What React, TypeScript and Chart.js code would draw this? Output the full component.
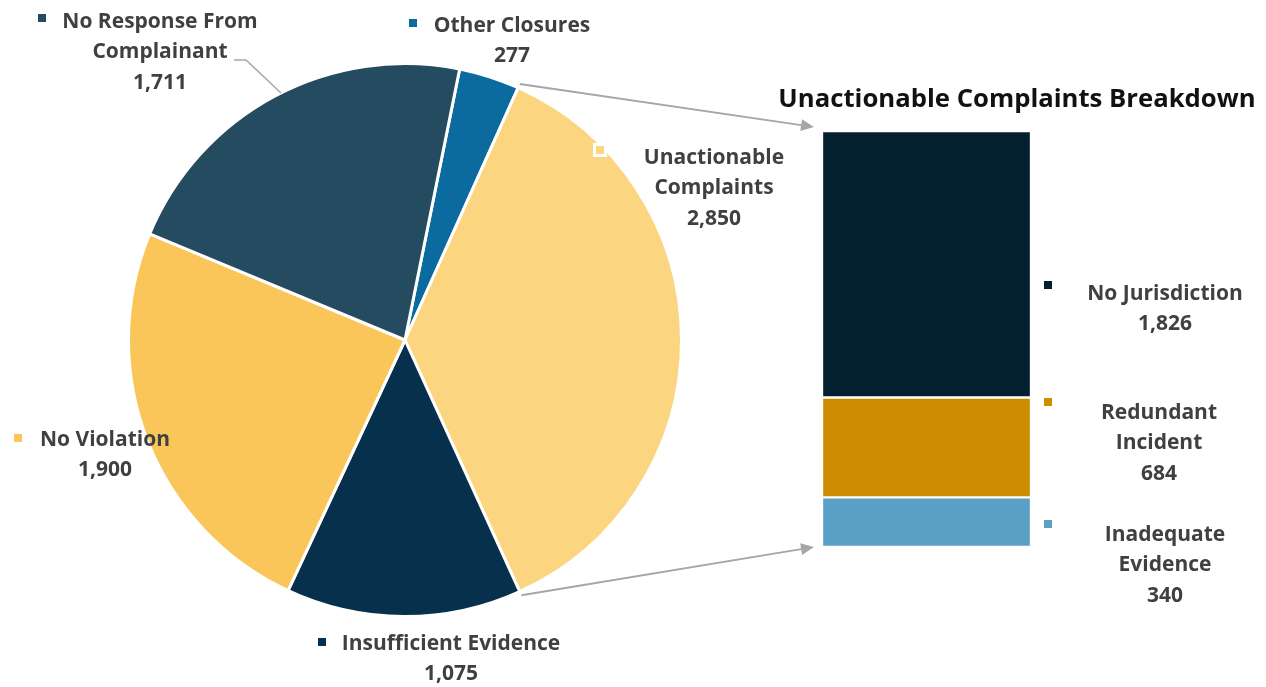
import React, { useEffect, useRef } from "react";
import { Chart, registerables } from "chart.js";

Chart.register(...registerables);

const pieLabels = ["Other Closures", "Unactionable Complaints", "Insufficient Evidence", "No Violation", "No Response From Complainant"];
const pieValues = [277, 2850, 1075, 1900, 1711];
const pieColors = ["#0b6a9e", "#fcd581", "#06304b", "#fac65a", "#254b60"];

const barLabels = ["No Jurisdiction", "Redundant Incident", "Inadequate Evidence"];
const barValues = [1826, 684, 340];
const barColors = ["#04202f", "#cc8e00", "#5aa0c4"];

const W = 1266;
const H = 687;
const FONT = "'Open Sans', Lato, sans-serif";
const TEXT = "#404040";

const fmt = (v: number) => v.toLocaleString("en-US");

type Lbl = { lines: string[]; cx: number; y: number; sq: [number, number]; color: string; hollow?: boolean };

export default function App() {
  const pieRef = useRef<HTMLCanvasElement | null>(null);
  const barRef = useRef<HTMLCanvasElement | null>(null);

  useEffect(() => {
    document.body.style.margin = "0";
    const pie = new Chart(pieRef.current!, {
      type: "pie",
      data: {
        labels: pieLabels,
        datasets: [{ data: pieValues, backgroundColor: pieColors, borderColor: "#ffffff", borderWidth: 3 }],
      },
      options: {
        responsive: false,
        animation: false,
        rotation: 11.4,
        layout: { padding: { left: 127, right: W - 683, top: 62, bottom: H - 618 } },
        plugins: { legend: { display: false }, tooltip: { enabled: false } },
      },
    });

    const labels: Lbl[] = [
      { lines: ["No Response From", "Complainant", fmt(pieValues[4])], cx: 160, y: 22, sq: [42, 18], color: pieColors[4] },
      { lines: ["Other Closures", fmt(pieValues[0])], cx: 512, y: 26, sq: [413, 23], color: pieColors[0] },
      { lines: ["Unactionable", "Complaints", fmt(pieValues[1])], cx: 714, y: 158, sq: [600, 150], color: pieColors[1], hollow: true },
      { lines: ["No Violation", fmt(pieValues[3])], cx: 105, y: 440, sq: [18, 438], color: pieColors[3] },
      { lines: ["Insufficient Evidence", fmt(pieValues[2])], cx: 451, y: 644, sq: [322, 642], color: pieColors[2] },
      { lines: ["No Jurisdiction", fmt(barValues[0])], cx: 1165, y: 294, sq: [1048, 285], color: barColors[0] },
      { lines: ["Redundant", "Incident", fmt(barValues[1])], cx: 1159, y: 413, sq: [1048, 402], color: barColors[1] },
      { lines: ["Inadequate", "Evidence", fmt(barValues[2])], cx: 1165, y: 535, sq: [1048, 524], color: barColors[2] },
    ];

    const arrow = (ctx: CanvasRenderingContext2D, x1: number, y1: number, x2: number, y2: number) => {
      const a = Math.atan2(y2 - y1, x2 - x1);
      const L = 13, Wd = 6;
      const bx = x2 - L * Math.cos(a), by = y2 - L * Math.sin(a);
      ctx.beginPath();
      ctx.moveTo(x1, y1);
      ctx.lineTo(bx, by);
      ctx.stroke();
      ctx.beginPath();
      ctx.moveTo(x2, y2);
      ctx.lineTo(bx + Wd * Math.sin(a), by - Wd * Math.cos(a));
      ctx.lineTo(bx - Wd * Math.sin(a), by + Wd * Math.cos(a));
      ctx.closePath();
      ctx.fill();
    };

    const overlay = {
      id: "overlay",
      afterDraw(chart: any) {
        const ctx: CanvasRenderingContext2D = chart.ctx;
        ctx.save();
        const arc: any = pie.getDatasetMeta(0).data[1];
        const r = arc.outerRadius + 4;
        const sx = arc.x + r * Math.cos(arc.startAngle), sy = arc.y + r * Math.sin(arc.startAngle);
        const ex = arc.x + r * Math.cos(arc.endAngle), ey = arc.y + r * Math.sin(arc.endAngle);
        const topEl: any = chart.getDatasetMeta(0).data[0];
        const botEl: any = chart.getDatasetMeta(2).data[0];
        const left = topEl.x - topEl.width / 2;
        const top = Math.min(topEl.y, topEl.base);
        const bottom = Math.max(botEl.y, botEl.base);
        ctx.strokeStyle = "#a6a6a6";
        ctx.fillStyle = "#a6a6a6";
        ctx.lineWidth = 2;
        arrow(ctx, sx, sy, left - 8, top - 4);
        arrow(ctx, ex, ey, left - 8, bottom);
        ctx.lineWidth = 1.5;
        ctx.beginPath();
        ctx.moveTo(234, 60);
        ctx.lineTo(246, 60);
        ctx.lineTo(281, 93);
        ctx.stroke();
        ctx.fillStyle = "#111111";
        ctx.font = `bold 25.7px ${FONT}`;
        ctx.textAlign = "center";
        ctx.textBaseline = "middle";
        ctx.fillText("Unactionable Complaints Breakdown", 1017, 100);
        ctx.font = `bold 21px ${FONT}`;
        for (const l of labels) {
          ctx.fillStyle = TEXT;
          l.lines.forEach((t, i) => ctx.fillText(t, l.cx, l.y + i * 30.5));
          const [qx, qy] = l.sq;
          if (l.hollow) {
            ctx.fillStyle = "#ffffff";
            ctx.fillRect(qx - 7, qy - 7, 14, 14);
          }
          ctx.fillStyle = l.color;
          ctx.fillRect(qx - 4, qy - 4, 8, 8);
        }
        ctx.restore();
      },
    };

    const bar = new Chart(barRef.current!, {
      type: "bar",
      data: {
        labels: [""],
        datasets: barLabels.map((lab, i) => ({
          label: lab,
          data: [barValues[i]],
          backgroundColor: barColors[i],
          borderColor: "#ffffff",
          borderWidth: 1.5,
          borderSkipped: false,
          barPercentage: 1,
          categoryPercentage: 1,
        })),
      },
      options: {
        responsive: false,
        animation: false,
        layout: { padding: { left: 822, right: W - 1031, top: 131, bottom: H - 547 } },
        scales: {
          x: { stacked: true, display: false },
          y: { stacked: true, display: false, min: 0, max: barValues.reduce((a, b) => a + b, 0), reverse: true },
        },
        plugins: { legend: { display: false }, tooltip: { enabled: false } },
      },
      plugins: [overlay],
    });

    return () => {
      bar.destroy();
      pie.destroy();
    };
  }, []);

  return (
    <div style={{ position: "relative", width: W, height: H, background: "#ffffff" }}>
      <canvas ref={pieRef} width={W} height={H} style={{ position: "absolute", left: 0, top: 0 }} />
      <canvas ref={barRef} width={W} height={H} style={{ position: "absolute", left: 0, top: 0 }} />
    </div>
  );
}
